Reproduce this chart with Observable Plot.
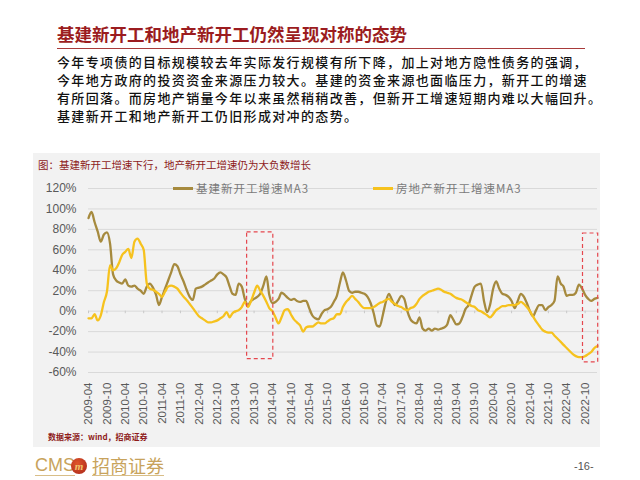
<!DOCTYPE html>
<html><head><meta charset="utf-8">
<script src="https://cdn.jsdelivr.net/npm/d3@7"></script>
<script src="https://cdn.jsdelivr.net/npm/@observablehq/plot@0.6"></script>
<style>
body{margin:0;width:640px;height:480px;background:#fff;position:relative;overflow:hidden;font-family:"Noto Sans CJK SC",sans-serif;}
.abs{position:absolute;white-space:nowrap;}
#title{left:57px;top:22px;font-size:17.5px;color:#9B1C20;font-weight:700;line-height:24px;}
#rule{left:57px;top:48px;width:528px;height:0;border-top:1.5px solid #A83A3A;}
#para{left:57px;top:53px;font-size:13px;line-height:18px;letter-spacing:1.35px;color:#111;font-weight:500;}
#panel{left:33px;top:153px;width:567px;height:294px;background:#F2F2F2;}
#sub{left:38px;top:157px;font-size:10.5px;color:#8E1B1B;line-height:16px;}
.lg{font-size:11.5px;color:#7a7a7a;letter-spacing:1px;line-height:14px;}
.sw{height:3px;width:20px;}
#src{left:48px;top:431px;font-size:8px;font-weight:700;color:#8E1B1B;}
.gold{color:#C8A35C;font-size:18px;line-height:20px;border-bottom:1px solid #D8BE88;}
#page{left:574px;top:460px;font-size:11px;color:#555;font-family:"Liberation Sans",sans-serif;}
#logo{left:71px;top:458px;width:16px;height:16px;border-radius:50%;background:radial-gradient(circle at 40% 35%,#E0552A,#A8261A);color:#F2C46A;font:italic bold 11px "Liberation Serif",serif;text-align:center;line-height:16px;}
#chart{position:absolute;left:0;top:170px;}
</style>
</head><body>
<div id="panel" class="abs"></div>
<div id="title" class="abs">基建新开工和地产新开工仍然呈现对称的态势</div>
<div id="rule" class="abs"></div>
<div id="para" class="abs">今年专项债的目标规模较去年实际发行规模有所下降，加上对地方隐性债务的强调，<br>今年地方政府的投资资金来源压力较大。基建的资金来源也面临压力，新开工的增速<br>有所回落。而房地产销量今年以来虽然稍稍改善，但新开工增速短期内难以大幅回升。<br>基建新开工和地产新开工仍旧形成对冲的态势。</div>
<div id="sub" class="abs">图：基建新开工增速下行，地产新开工增速仍为大负数增长</div>
<div id="chart"></div>
<div class="abs sw" style="left:173px;top:187px;background:#A68A3E"></div>
<div class="abs lg" style="left:196px;top:181px">基建新开工增速MA3</div>
<div class="abs sw" style="left:373px;top:187px;background:#F6C21E"></div>
<div class="abs lg" style="left:396px;top:181px">房地产新开工增速MA3</div>
<div id="src" class="abs">数据来源：wind，招商证券</div>
<div class="abs gold" style="left:35px;top:455px;font-family:'Liberation Sans',sans-serif;">CMS</div>
<div id="logo" class="abs">m</div>
<div class="abs gold" style="left:92px;top:455px;">招商证券</div>
<div id="page" class="abs">-16-</div>
<script>
// monthly series, 2009-04 .. 2023-02
const startMonth = "2009-04";
const infraMA3 = [91,97,87,78,68,75,77,66,36,30,28,27,31,25,24,25,22,20,17,24,27,23,16,6,14,22,30,38,46,44,36,29,21,14,11,22,23,24,26,28,30,32,36,38,36,33,24,17,16,27,24,12,6,10,12,14,17,25,34,16,8,9,12,18,16,13,11,12,10,9,10,10,3,-4,-7,-8,-3,1,2,4,9,15,28,38,30,20,18,19,19,18,17,14,8,-2,-14,-15,-4,9,17,11,6,10,15,12,0,-8,-11,-12,-6,-17,-19,-17,-19,-17,-18,-17,-16,-13,-4,-8,-13,-12,-6,2,6,16,24,26,27,10,-1,6,22,29,22,17,16,14,10,3,10,17,14,8,0,-5,1,6,6,1,4,6,10,34,27,24,15,16,16,18,26,22,16,12,10,12,13];
const estateMA3 = [-7,-7,-3,-9,-4,9,19,45,40,42,48,55,58,61,52,68,71,66,60,27,22,21,19,17,14,19,24,25,24,22,18,14,11,7,3,-1,-5,-7,-9,-11,-11,-10,-9,-7,-5,-1,-6,-2,0,1,4,9,4,10,18,25,20,15,9,3,0,-6,-12,-6,1,2,-3,-8,-11,-14,-20,-16,-15,-15,-13,-11,-12,-12,-10,-8,-7,-3,-3,4,9,12,15,12,9,5,3,3,3,4,6,8,9,11,12,9,7,5,4,2,1,3,4,7,12,15,17,19,20,21,22,21,19,18,17,15,13,12,11,9,7,5,4,1,0,-2,-4,-6,-3,1,3,5,5,6,6,6,7,9,7,4,0,-5,-10,-14,-18,-20,-21,-21,-24,-27,-30,-33,-36,-39,-42,-44,-45,-45,-44,-42,-40,-36,-34];
const seriesNames = ["基建新开工增速MA3", "房地产新开工增速MA3"];
const seriesColors = ["#A68A3E", "#F6C21E"];
const tickLabels = ["2009-04","2009-10","2010-04","2010-10","2011-04","2011-10","2012-04","2012-10","2013-04","2013-10","2014-04","2014-10","2015-04","2015-10","2016-04","2016-10","2017-04","2017-10","2018-04","2018-10","2019-04","2019-10","2020-04","2020-10","2021-04","2021-10","2022-04","2022-10"];
const yTicks = [-60,-40,-20,0,20,40,60,80,100,120];
const highlightStart = ["2013-07-24","2022-09-10"];
const highlightEnd = ["2014-04-10","2023-02-08"];
const highlightLow = [-47,-50];
const highlightHigh = [77,76];

const parse = d3.utcParse("%Y-%m");
const parseDay = d3.utcParse("%Y-%m-%d");
const t0 = parse(startMonth);
const rows = [];
[infraMA3, estateMA3].forEach((arr, s) => arr.forEach((v, i) => rows.push({date: d3.utcMonth.offset(t0, i), value: v, series: seriesNames[s]})));
const boxes = highlightStart.map((d, i) => ({x1: parseDay(d), x2: parseDay(highlightEnd[i]), y1: highlightLow[i], y2: highlightHigh[i]}));
const lastDate = d3.utcMonth.offset(t0, infraMA3.length - 1);
const tickDates = tickLabels.map(parse);

const chart = Plot.plot({
  width: 640, height: 262,
  marginLeft: 88, marginRight: 43, marginTop: 18, marginBottom: 60,
  style: {background: "transparent", fontFamily: "'Liberation Sans', sans-serif", fontSize: "12px", color: "#595959"},
  x: {type: "utc", domain: [t0, lastDate]},
  y: {domain: [-60, 120]},
  color: {domain: seriesNames, range: seriesColors},
  marks: [
    Plot.gridY(yTicks, {stroke: "#D9D9D9", strokeOpacity: 1, strokeWidth: 1}),
    Plot.ruleX(tickDates, {x: d => d, y1: 0, y2: -2.5, stroke: "#C8C8C8", strokeWidth: 1}),
    Plot.axisY(yTicks, {tickFormat: d => d + "%", tickSize: 0, tickPadding: 12, label: null, fontSize: 12}),
    Plot.axisX(tickDates, {tickFormat: d3.utcFormat("%Y-%m"), tickRotate: -90, tickSize: 0, tickPadding: 10, label: null, fontSize: 11.5}),
    Plot.line(rows, {x: "date", y: "value", stroke: "series", z: "series", strokeWidth: 2.3, curve: "monotone-x"}),
    Plot.rect(boxes, {x1: "x1", x2: "x2", y1: "y1", y2: "y2", fill: "none", stroke: "#E5474E", strokeWidth: 1.2, strokeDasharray: "4,3"})
  ]
});
document.getElementById("chart").appendChild(chart);
</script>
</body></html>
